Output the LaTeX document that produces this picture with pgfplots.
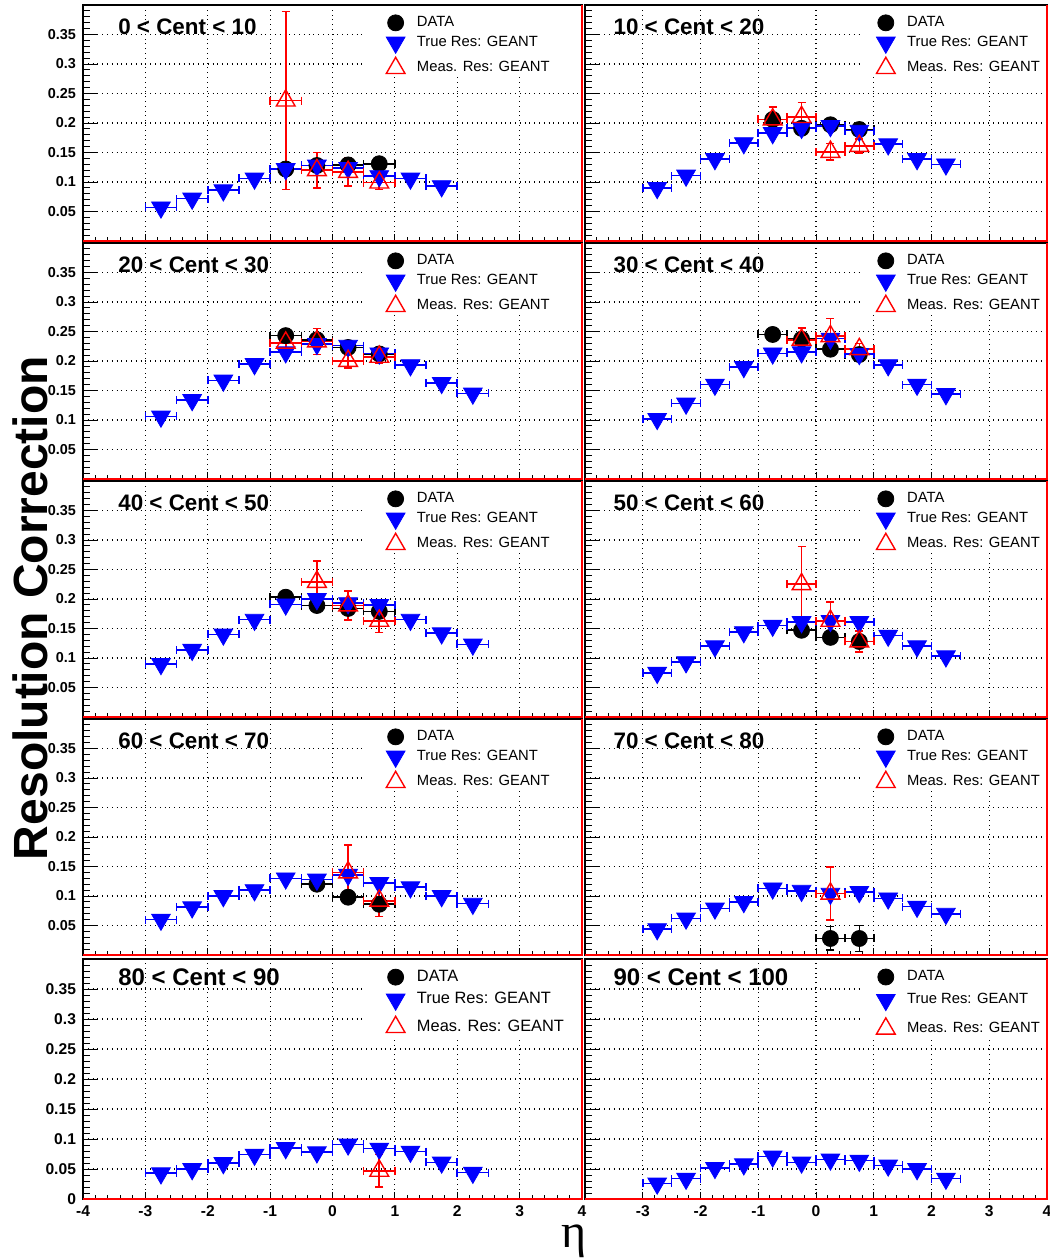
\documentclass[border=0pt]{standalone}
\usepackage{pgfplots}
\pgfplotsset{compat=1.18}
\usepackage{fontspec}
\setmainfont{Liberation Sans}
\newfontfamily\serifgreek{Liberation Serif}

\pgfplotsset{
  base/.style={scale only axis, clip=false,
    xmin=-4,xmax=4,ymin=0,ymax=0.4,
    xtick={-4,-3,-2,-1,0,1,2,3,4},
    ytick={0,0.05,0.1,0.15,0.2,0.25,0.3,0.35,0.4},
    minor x tick num=4, minor y tick num=4,
    tick align=inside, xtick pos=bottom, ytick pos=left,
    major tick length=7pt, minor tick length=3.5pt,
    xtick style={/pgfplots/major tick length=3.5pt,/pgfplots/minor tick length=2pt},
    grid=major, major grid style={black, dotted, line width=0.6pt},
    axis line style={black, line width=0.6pt},
    tick style={black, line width=0.5pt},
    xticklabels={},
    tick label style={font=\bfseries\fontsize{7.2}{8}\selectfont},
    legend cell align=left,
    legend style={anchor=north west, draw=none, fill=none, inner sep=0pt,
      row sep=2pt, column sep=5.5pt, nodes={inner sep=0.5pt},
      font=\fontsize{7.4}{8}\selectfont},
  },
  colL/.style={width=249.5pt, legend style={at={(0.607,0.96)}},
    yticklabels={,0.05,0.1,0.15,0.2,0.25,0.3,0.35,},
    extra description/.code={
      \draw[black,line width=0.7pt] (0,0)--(0,1)--(1,1);
      \draw[red,line width=1pt] (0,0)--(1,0)--(1,1);}},
  colR/.style={width=231pt, legend style={at={(0.630,0.96)}},
    yticklabels={},
    extra description/.code={
      \draw[black,line width=0.7pt] (0,0)--(0,1)--(1,1);
      \draw[red,line width=1pt] (0,0)--(1,0)--(1,1);
      \draw[red,line width=1pt] ([xshift=-1.3pt]0,0)--([xshift=-1.3pt]0,1);}},
  rowN/.style={height=118pt},
  rowBL/.style={height=120pt, xticklabels={-4,-3,-2,-1,0,1,2,3,4},
    tick label style={font=\bfseries\fontsize{7.8}{8}\selectfont},
    legend style={font=\fontsize{8.2}{9}\selectfont, row sep=3pt}},
  rowBR/.style={height=120pt, xtick={-3,-2,-1,0,1,2,3,4}, xticklabels={-3,-2,-1,0,1,2,3,4},
    tick label style={font=\bfseries\fontsize{7.8}{8}\selectfont},
    legend style={row sep=3.6pt}},
  datastyle/.style={only marks, mark=*, mark size=4pt, black},
  truestyle/.style={only marks, mark=triangle*, mark size=5.4pt, blue, mark options={rotate=180}},
  measstyle/.style={only marks, mark=triangle, mark size=5.4pt, red, mark options={line width=0.7pt}},
  errs/.style={error bars/.cd, x dir=both, x explicit, y dir=both, y explicit,
    error bar style={line width=0.8pt},
    error mark options={rotate=90, mark size=2pt, line width=0.8pt}},
  errx/.style={error bars/.cd, x dir=both, x explicit,
    error bar style={line width=0.8pt},
    error mark options={rotate=90, mark size=2pt, line width=0.8pt}},
}
\newcommand{\wbox}[2]{\fill[white] (rel axis cs:#1,#2) rectangle (rel axis cs:1,1);}
\newcommand{\legs}{%
  \addlegendimage{datastyle}\addlegendentry{DATA}%
  \addlegendimage{truestyle}\addlegendentry{True Res: GEANT}%
  \addlegendimage{measstyle}\addlegendentry{Meas. Res: GEANT}}
\newcommand{\ttl}[3]{\node[anchor=west, inner sep=0pt, font=\bfseries\fontsize{#3}{#3}\selectfont] at (rel axis cs:#1) {#2};}

\begin{document}
\begin{tikzpicture}
\useasboundingbox (0,0) rectangle (525pt,-629.5pt);

% ---------- Row 1 ----------
\begin{axis}[base, colL, rowN, at={(41.5pt,-2.5pt)}, anchor=north west]
\wbox{0.568}{0.695}
\legs
\addplot[datastyle, forget plot, errs] coordinates {(-0.75,0.122) +- (0.25,0.010) (-0.25,0.128) +- (0.25,0.010) (0.25,0.129) +- (0.25,0.008) (0.75,0.131) +- (0.25,0.008)};
\addplot[truestyle, forget plot, errx] coordinates {(-2.75,0.057) +- (0.25,0) (-2.25,0.072) +- (0.25,0) (-1.75,0.086) +- (0.25,0) (-1.25,0.106) +- (0.25,0) (-0.75,0.122) +- (0.25,0) (-0.25,0.128) +- (0.25,0) (0.25,0.124) +- (0.25,0) (0.75,0.110) +- (0.25,0) (1.25,0.106) +- (0.25,0) (1.75,0.093) +- (0.25,0)};
\addplot[measstyle, forget plot, errs] coordinates {(-0.75,0.238) +- (0.25,0.151) (-0.25,0.120) +- (0.25,0.030) (0.25,0.117) +- (0.25,0.024) (0.75,0.099) +- (0.25,0.012)};
\ttl{0.07,0.907}{0 < Cent < 10}{11.2}
\end{axis}

\begin{axis}[base, colR, rowN, at={(292.5pt,-2.5pt)}, anchor=north west]
\wbox{0.595}{0.695}
\legs
\addplot[datastyle, forget plot, errs] coordinates {(-0.75,0.206) +- (0.25,0.012) (-0.25,0.191) +- (0.25,0.010) (0.25,0.197) +- (0.25,0.008) (0.75,0.189) +- (0.25,0.008)};
\addplot[truestyle, forget plot, errx] coordinates {(-2.75,0.090) +- (0.25,0) (-2.25,0.111) +- (0.25,0) (-1.75,0.139) +- (0.25,0) (-1.25,0.166) +- (0.25,0) (-0.75,0.183) +- (0.25,0) (-0.25,0.192) +- (0.25,0) (0.25,0.195) +- (0.25,0) (0.75,0.187) +- (0.25,0) (1.25,0.164) +- (0.25,0) (1.75,0.139) +- (0.25,0) (2.25,0.130) +- (0.25,0)};
\addplot[measstyle, forget plot, errs] coordinates {(-0.75,0.206) +- (0.25,0.021) (-0.25,0.210) +- (0.25,0.025) (0.25,0.151) +- (0.25,0.014) (0.75,0.161) +- (0.25,0.012)};
\ttl{0.061,0.907}{10 < Cent < 20}{11.2}
\end{axis}

% ---------- Row 2 ----------
\begin{axis}[base, colL, rowN, at={(41.5pt,-121.5pt)}, anchor=north west]
\wbox{0.568}{0.695}
\legs
\addplot[datastyle, forget plot, errs] coordinates {(-0.75,0.243) +- (0.25,0.010) (-0.25,0.236) +- (0.25,0.010) (0.25,0.223) +- (0.25,0.010) (0.75,0.212) +- (0.25,0.010)};
\addplot[truestyle, forget plot, errx] coordinates {(-2.75,0.106) +- (0.25,0) (-2.25,0.134) +- (0.25,0) (-1.75,0.167) +- (0.25,0) (-1.25,0.195) +- (0.25,0) (-0.75,0.215) +- (0.25,0) (-0.25,0.229) +- (0.25,0) (0.25,0.226) +- (0.25,0) (0.75,0.213) +- (0.25,0) (1.25,0.193) +- (0.25,0) (1.75,0.163) +- (0.25,0) (2.25,0.145) +- (0.25,0)};
\addplot[measstyle, forget plot, errs] coordinates {(-0.75,0.231) +- (0.25,0.023) (-0.25,0.233) +- (0.25,0.022) (0.25,0.200) +- (0.25,0.012) (0.75,0.207) +- (0.25,0.010)};
\ttl{0.07,0.907}{20 < Cent < 30}{11.2}
\end{axis}

\begin{axis}[base, colR, rowN, at={(292.5pt,-121.5pt)}, anchor=north west]
\wbox{0.595}{0.695}
\legs
\addplot[datastyle, forget plot, errs] coordinates {(-0.75,0.245) +- (0.25,0.008) (-0.25,0.237) +- (0.25,0.008) (0.25,0.220) +- (0.25,0.010) (0.75,0.211) +- (0.25,0.008)};
\addplot[truestyle, forget plot, errx] coordinates {(-2.75,0.102) +- (0.25,0) (-2.25,0.128) +- (0.25,0) (-1.75,0.160) +- (0.25,0) (-1.25,0.190) +- (0.25,0) (-0.75,0.213) +- (0.25,0) (-0.25,0.215) +- (0.25,0) (0.25,0.238) +- (0.25,0) (0.75,0.212) +- (0.25,0) (1.25,0.193) +- (0.25,0) (1.75,0.160) +- (0.25,0) (2.25,0.144) +- (0.25,0)};
\addplot[measstyle, forget plot, errs] coordinates {(-0.25,0.236) +- (0.25,0.020) (0.25,0.242) +- (0.25,0.030) (0.75,0.220) +- (0.25,0.010)};
\ttl{0.061,0.907}{30 < Cent < 40}{11.2}
\end{axis}

% ---------- Row 3 ----------
\begin{axis}[base, colL, rowN, at={(41.5pt,-240.5pt)}, anchor=north west]
\wbox{0.568}{0.695}
\legs
\addplot[datastyle, forget plot, errs] coordinates {(-0.75,0.203) +- (0.25,0.008) (-0.25,0.189) +- (0.25,0.008) (0.25,0.184) +- (0.25,0.010) (0.75,0.179) +- (0.25,0.010)};
\addplot[truestyle, forget plot, errx] coordinates {(-2.75,0.090) +- (0.25,0) (-2.25,0.114) +- (0.25,0) (-1.75,0.140) +- (0.25,0) (-1.25,0.165) +- (0.25,0) (-0.75,0.191) +- (0.25,0) (-0.25,0.200) +- (0.25,0) (0.25,0.193) +- (0.25,0) (0.75,0.190) +- (0.25,0) (1.25,0.165) +- (0.25,0) (1.75,0.142) +- (0.25,0) (2.25,0.123) +- (0.25,0)};
\addplot[measstyle, forget plot, errs] coordinates {(-0.25,0.229) +- (0.25,0.035) (0.25,0.189) +- (0.25,0.025) (0.75,0.163) +- (0.25,0.020)};
\ttl{0.07,0.907}{40 < Cent < 50}{11.2}
\end{axis}

\begin{axis}[base, colR, rowN, at={(292.5pt,-240.5pt)}, anchor=north west]
\wbox{0.595}{0.695}
\legs
\addplot[datastyle, forget plot, errs] coordinates {(-0.25,0.147) +- (0.25,0.008) (0.25,0.135) +- (0.25,0.008) (0.75,0.128) +- (0.25,0.008)};
\addplot[truestyle, forget plot, errx] coordinates {(-2.75,0.075) +- (0.25,0) (-2.25,0.093) +- (0.25,0) (-1.75,0.120) +- (0.25,0) (-1.25,0.144) +- (0.25,0) (-0.75,0.155) +- (0.25,0) (-0.25,0.161) +- (0.25,0) (0.25,0.163) +- (0.25,0) (0.75,0.161) +- (0.25,0) (1.25,0.138) +- (0.25,0) (1.75,0.120) +- (0.25,0) (2.25,0.103) +- (0.25,0)};
\addplot[measstyle, forget plot, errs] coordinates {(-0.25,0.225) +- (0.25,0.064) (0.25,0.163) +- (0.25,0.032) (0.75,0.128) +- (0.25,0.018)};
\ttl{0.061,0.907}{50 < Cent < 60}{11.2}
\end{axis}

% ---------- Row 4 ----------
\begin{axis}[base, colL, rowN, at={(41.5pt,-359.5pt)}, anchor=north west]
\wbox{0.568}{0.695}
\legs
\addplot[datastyle, forget plot, errs] coordinates {(-0.25,0.120) +- (0.25,0.010) (0.25,0.098) +- (0.25,0.010) (0.75,0.086) +- (0.25,0.008)};
\addplot[truestyle, forget plot, errx] coordinates {(-2.75,0.060) +- (0.25,0) (-2.25,0.081) +- (0.25,0) (-1.75,0.100) +- (0.25,0) (-1.25,0.110) +- (0.25,0) (-0.75,0.130) +- (0.25,0) (-0.25,0.128) +- (0.25,0) (0.25,0.136) +- (0.25,0) (0.75,0.122) +- (0.25,0) (1.25,0.115) +- (0.25,0) (1.75,0.100) +- (0.25,0) (2.25,0.087) +- (0.25,0)};
\addplot[measstyle, forget plot, errs] coordinates {(0.25,0.140) +- (0.25,0.046) (0.75,0.092) +- (0.25,0.027)};
\ttl{0.07,0.907}{60 < Cent < 70}{11.2}
\end{axis}

\begin{axis}[base, colR, rowN, at={(292.5pt,-359.5pt)}, anchor=north west]
\wbox{0.595}{0.695}
\legs
\addplot[datastyle, forget plot, errs] coordinates {(0.25,0.028) +- (0.25,0.020) (0.75,0.028) +- (0.25,0.022)};
\addplot[truestyle, forget plot, errx] coordinates {(-2.75,0.044) +- (0.25,0) (-2.25,0.062) +- (0.25,0) (-1.75,0.079) +- (0.25,0) (-1.25,0.090) +- (0.25,0) (-0.75,0.113) +- (0.25,0) (-0.25,0.109) +- (0.25,0) (0.25,0.104) +- (0.25,0) (0.75,0.107) +- (0.25,0) (1.25,0.096) +- (0.25,0) (1.75,0.082) +- (0.25,0) (2.25,0.070) +- (0.25,0)};
\addplot[measstyle, forget plot, errs] coordinates {(0.25,0.104) +- (0.25,0.045)};
\ttl{0.061,0.907}{70 < Cent < 80}{11.2}
\end{axis}

% ---------- Row 5 ----------
\begin{axis}[base, colL, rowBL, at={(41.5pt,-479.5pt)}, anchor=north west,
  yticklabels={0,0.05,0.1,0.15,0.2,0.25,0.3,0.35,}]
\wbox{0.568}{0.665}
\legs
\addplot[truestyle, forget plot, errx] coordinates {(-2.75,0.043) +- (0.25,0) (-2.25,0.050) +- (0.25,0) (-1.75,0.060) +- (0.25,0) (-1.25,0.074) +- (0.25,0) (-0.75,0.085) +- (0.25,0) (-0.25,0.078) +- (0.25,0) (0.25,0.091) +- (0.25,0) (0.75,0.084) +- (0.25,0) (1.25,0.079) +- (0.25,0) (1.75,0.061) +- (0.25,0) (2.25,0.044) +- (0.25,0)};
\addplot[measstyle, forget plot, errs] coordinates {(0.75,0.047) +- (0.25,0.027)};
\ttl{0.07,0.925}{80 < Cent < 90}{12}
\end{axis}

\begin{axis}[base, colR, rowBR, at={(292.5pt,-479.5pt)}, anchor=north west]
\wbox{0.595}{0.665}
\legs
\addplot[truestyle, forget plot, errx] coordinates {(-2.75,0.026) +- (0.25,0) (-2.25,0.034) +- (0.25,0) (-1.75,0.052) +- (0.25,0) (-1.25,0.058) +- (0.25,0) (-0.75,0.071) +- (0.25,0) (-0.25,0.061) +- (0.25,0) (0.25,0.066) +- (0.25,0) (0.75,0.064) +- (0.25,0) (1.25,0.056) +- (0.25,0) (1.75,0.050) +- (0.25,0) (2.25,0.034) +- (0.25,0)};
\ttl{0.061,0.925}{90 < Cent < 100}{12}
\end{axis}

\node[rotate=90, font=\bfseries\fontsize{24}{24}\selectfont] at (15pt,-304pt) {Resolution Correction};
\node[inner sep=0pt, font=\serifgreek\fontsize{24}{24}\selectfont] at (287pt,-620.5pt) {η};
\end{tikzpicture}
\end{document}
